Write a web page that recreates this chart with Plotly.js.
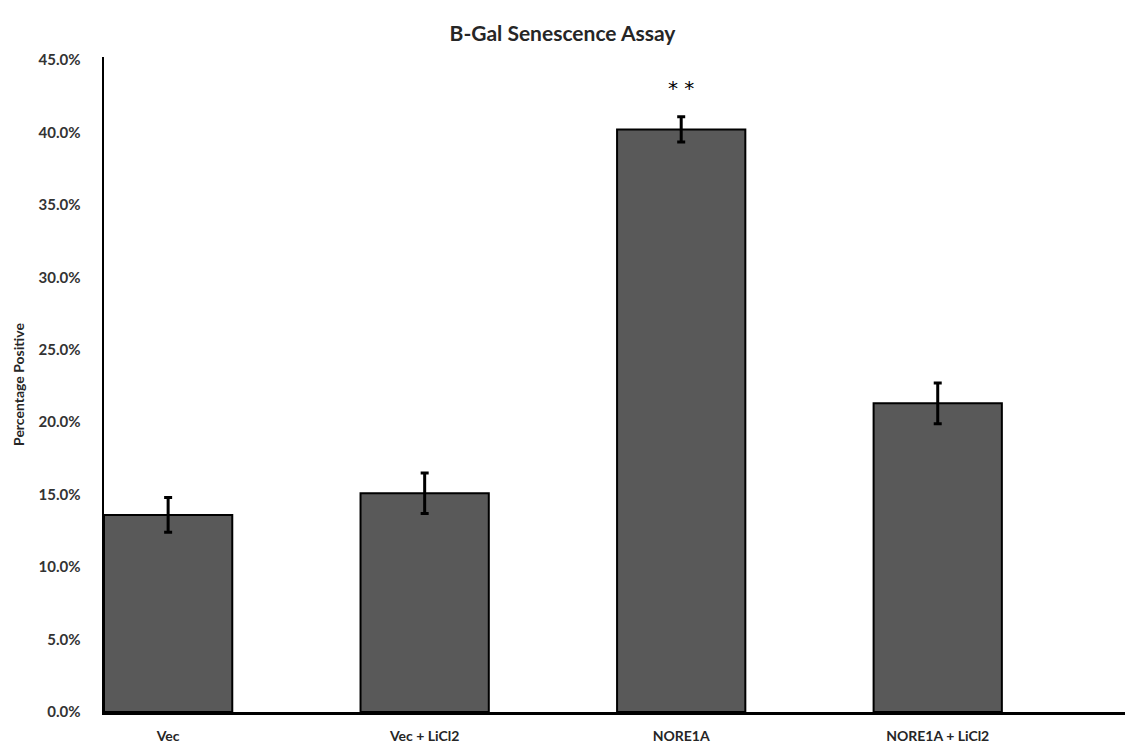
<!DOCTYPE html>
<html>
<head>
<meta charset="utf-8">
<script src="https://cdn.plot.ly/plotly-3.0.1.min.js"></script>
<style>html,body{margin:0;padding:0;background:#fff;}#chart{width:1125px;height:747px;}</style>
</head>
<body>
<div id="chart"></div>
<script>
const categories = ["Vec", "Vec + LiCl2", "NORE1A", "NORE1A + LiCl2"];
const percentPositive = [13.6, 15.1, 40.2, 21.3];
const errorValues = [1.2, 1.4, 0.87, 1.4];
const significance = ["", "", "* *", ""];
const yTickValues = [0, 5, 10, 15, 20, 25, 30, 35, 40, 45];
const yTickLabels = ["0.0%", "5.0%", "10.0%", "15.0%", "20.0%", "25.0%", "30.0%", "35.0%", "40.0%", "45.0%"];

const xIdx = categories.map((c, i) => i);
const FONT = "Lato, 'Open Sans', sans-serif";

const trace = {
  type: "bar",
  x: xIdx,
  y: percentPositive,
  width: 0.5,
  marker: { color: "#595959", line: { color: "#000000", width: 2 } },
  error_y: { type: "data", array: errorValues, visible: true, color: "#000000", thickness: 3, width: 4 },
  hoverinfo: "skip"
};

const annotations = [];
significance.forEach((s, i) => {
  if (s) {
    annotations.push({
      x: i, y: percentPositive[i] + errorValues[i] + 2.0,
      xref: "x", yref: "y", text: s, showarrow: false,
      font: { family: "'DejaVu Sans', sans-serif", size: 20, color: "#000000" }
    });
  }
});

const layout = {
  width: 1125, height: 747,
  margin: { l: 104, r: 0, t: 57, b: 35 },
  paper_bgcolor: "#ffffff", plot_bgcolor: "#ffffff",
  showlegend: false,
  title: {
    text: "<b>B-Gal Senescence Assay</b>",
    x: 0.5, xref: "container", xanchor: "center",
    y: 0.955, yref: "container", yanchor: "middle",
    font: { family: FONT, size: 21, color: "#262626" }
  },
  xaxis: {
    range: [-0.25, 3.73],
    tickmode: "array", tickvals: xIdx,
    ticktext: categories.map(c => "<b>" + c + "</b>"),
    showgrid: false, zeroline: false,
    showline: true, linecolor: "#000000", linewidth: 2.5,
    ticks: "", ticklabelstandoff: 10,
    tickfont: { family: FONT, size: 14, color: "#262626" },
    fixedrange: true
  },
  yaxis: {
    range: [0, 45.2],
    tickmode: "array", tickvals: yTickValues,
    ticktext: yTickLabels.map(t => "<b>" + t + "</b>"),
    showgrid: false, zeroline: false,
    showline: true, linecolor: "#000000", linewidth: 2.5,
    ticks: "", ticklabelstandoff: 18,
    tickfont: { family: FONT, size: 15, color: "#333333" },
    title: { text: "<b>Percentage Positive</b>", standoff: 11, font: { family: FONT, size: 14, color: "#262626" } },
    fixedrange: true
  },
  annotations: annotations
};

Plotly.newPlot("chart", [trace], layout, { displayModeBar: false, staticPlot: true });
</script>
</body>
</html>
